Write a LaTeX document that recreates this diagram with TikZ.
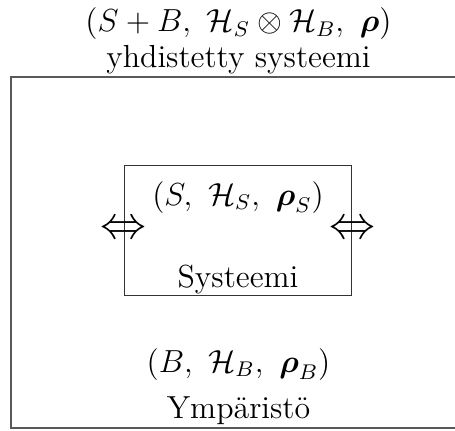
\documentclass[tikz,border=0pt,12pt]{standalone}
\usepackage{amsmath,amssymb}
\usepackage{tikz}
\usetikzlibrary{positioning}
\tikzset{
  envbox/.style = {draw=black!65, line width=0.75pt, minimum width=6.03cm,
                   minimum height=4.64cm, inner sep=0pt},
  sysbox/.style = {draw=black!80, line width=0.45pt, minimum width=3.01cm,
                   minimum height=1.71cm, inner sep=0pt},
  lbl/.style    = {anchor=base, inner sep=0pt},
  xchg/.style   = {font=\Large, inner sep=0pt}
}
\newcommand{\dens}{\boldsymbol{\rho}}

\begin{document}
\begin{tikzpicture}
  \useasboundingbox (0,0) rectangle (6.015,-5.685);
  % Boxes
  \node[envbox] (env) at (3.16,-3.338) {};
  \node[sysbox] (sys) at (3.146,-3.047) {};
  % Combined system
  \node[lbl] (totmath) at (3.153,-0.42)
    {$(S+B,\ \mathcal{H}_S\otimes\mathcal{H}_B,\ \dens)$};
  \node[lbl] (totlbl)  at (3.153,-0.886) {yhdistetty systeemi};
  % System
  \node[lbl] (sysmath) at (3.146,-2.710) {$(S,\ \mathcal{H}_S,\ \dens_S)$};
  \node[lbl] (syslbl)  at (3.146,-3.794) {Systeemi};
  % Environment
  \node[lbl] (bathmath) at (3.153,-4.918) {$(B,\ \mathcal{H}_B,\ \dens_B)$};
  \node[lbl] (bathlbl)  at (3.153,-5.526) {Ymp\"arist\"o};
  % Exchange with environment
  \node[xchg] (xl) at (sys.west) {$\Leftrightarrow$};
  \node[xchg] (xr) at (sys.east) {$\Leftrightarrow$};
\end{tikzpicture}
\end{document}
